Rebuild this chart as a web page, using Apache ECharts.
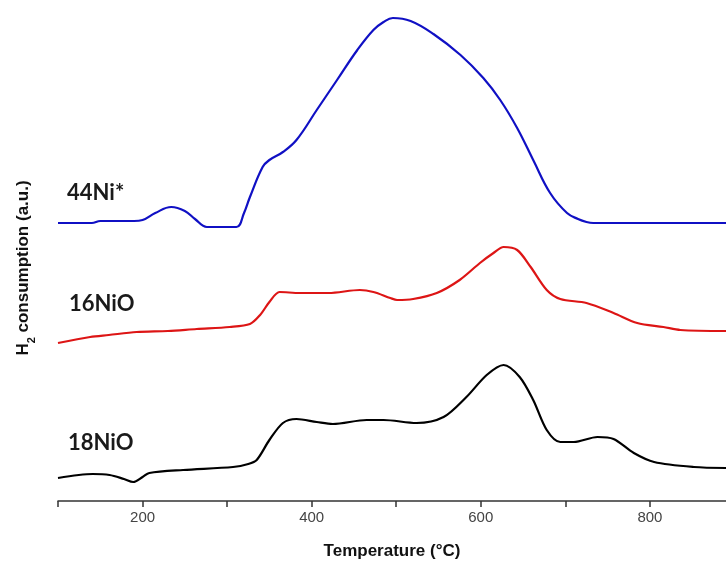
<!DOCTYPE html>
<html>
<head>
<meta charset="utf-8">
<script src="https://cdn.jsdelivr.net/npm/echarts@6/dist/echarts.min.js"></script>
<style>
  html, body { margin: 0; padding: 0; background: #fff; }
  #chartmain { width: 726px; height: 570px; }
</style>
</head>
<body>
<div id="chartmain"></div>
<script>
  // 温度 (°C) 和信号 (a.u.)
  var blueT = [100, 140, 150, 190, 200, 215, 234, 250, 262, 276, 290, 311, 320, 327, 342, 350, 366, 382, 406, 430, 454, 473, 485, 496, 517, 544, 576, 603, 623, 643, 662, 682, 702, 715, 725, 733, 800, 890];
  var blueV = [278, 278, 280, 280, 281, 288, 294, 290, 282, 274, 274, 274, 288, 304, 334, 341, 349, 361, 391, 421, 451, 471, 479, 483, 480, 467, 446, 423, 401, 373, 341, 308, 288, 282, 279, 278, 278, 278];

  var redT = [100, 138, 160, 193, 230, 264, 303, 327, 339, 350, 362, 386, 420, 457, 473, 493, 501, 520, 548, 575, 599, 615, 627, 643, 659, 678, 694, 725, 757, 785, 816, 836, 890];
  var redV = [158, 164, 166, 169, 170, 172, 174, 177, 186, 199, 209, 208, 208, 211, 209, 203, 201, 202, 208, 221, 238, 248, 254, 251, 234, 211, 202, 198, 188, 178, 174, 171, 170];

  var blackT = [100, 141, 161, 178, 189, 200, 208, 248, 307, 325, 335, 350, 366, 382, 406, 425, 465, 485, 524, 556, 583, 607, 627, 646, 662, 678, 694, 710, 738, 757, 781, 805, 852, 890];
  var blackV = [23, 27, 26, 22, 19, 24, 28, 31, 34, 37, 41, 61, 78, 82, 79, 77, 81, 81, 78, 84, 104, 126, 136, 124, 101, 71, 59, 59, 64, 62, 48, 39, 34, 33];

  var sampleNames = ['44Ni*', '16NiO', '18NiO'];
  var xTickLabels = [200, 400, 600, 800];

  function pairs(t, v) {
    var arr = [];
    for (var i = 0; i < t.length; i++) {
      arr.push([t[i], v[i]]);
    }
    return arr;
  }

  var labelFont = 'bold 22px Lato';

  var myChart = echarts.init(document.getElementById('chartmain'));
  var option = {
    animation: false,
    backgroundColor: '#fff',
    grid: { left: 58, right: 0, top: 0, bottom: 69 },
    xAxis: {
      type: 'value',
      min: 100,
      max: 890,
      interval: 100,
      name: 'Temperature (\u00B0C)',
      nameLocation: 'middle',
      nameGap: 42,
      nameTextStyle: { fontFamily: 'Liberation Sans', fontWeight: 'bold', fontSize: 17, color: '#111' },
      axisLine: { lineStyle: { color: '#333', width: 1.5 } },
      axisTick: { length: 6, lineStyle: { color: '#333', width: 1.5 } },
      axisLabel: {
        fontFamily: 'Liberation Sans',
        fontSize: 15,
        color: '#444',
        margin: 9,
        showMaxLabel: false,
        formatter: function (v) {
          return xTickLabels.indexOf(v) >= 0 ? String(v) : '';
        }
      },
      splitLine: { show: false }
    },
    yAxis: {
      type: 'value',
      min: 0,
      max: 501,
      axisLine: { show: false },
      axisTick: { show: false },
      axisLabel: { show: false },
      splitLine: { show: false }
    },
    graphic: [
      {
        type: 'text', x: 23, y: 268, rotation: Math.PI / 2,
        style: {
          text: 'H{sub|2} consumption (a.u.)',
          font: 'bold 17px "Liberation Sans"',
          fill: '#111',
          align: 'center',
          verticalAlign: 'middle',
          rich: {
            sub: { fontSize: 11, fontWeight: 'bold', fontFamily: 'Liberation Sans', verticalAlign: 'bottom', lineHeight: 28, fill: '#111' }
          }
        }
      },
      { type: 'text', x: 67, y: 193, style: { text: sampleNames[0], font: labelFont, fill: '#1a1a1a', verticalAlign: 'middle' } },
      { type: 'text', x: 69, y: 304, style: { text: sampleNames[1], font: labelFont, fill: '#1a1a1a', verticalAlign: 'middle' } },
      { type: 'text', x: 68, y: 443, style: { text: sampleNames[2], font: labelFont, fill: '#1a1a1a', verticalAlign: 'middle' } }
    ],
    series: [
      {
        name: sampleNames[0], type: 'line', data: pairs(blueT, blueV),
        showSymbol: false, smooth: 0.4,
        lineStyle: { color: '#1010c4', width: 2.2 }
      },
      {
        name: sampleNames[1], type: 'line', data: pairs(redT, redV),
        showSymbol: false, smooth: 0.3,
        lineStyle: { color: '#dd1515', width: 2.2 }
      },
      {
        name: sampleNames[2], type: 'line', data: pairs(blackT, blackV),
        showSymbol: false, smooth: 0.3,
        lineStyle: { color: '#000', width: 2.2 }
      }
    ]
  };
  myChart.setOption(option);
</script>
</body>
</html>
